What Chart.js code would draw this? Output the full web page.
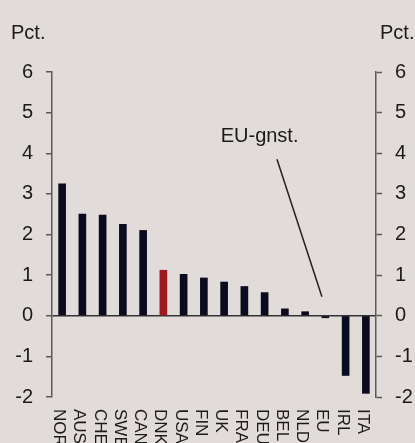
<!DOCTYPE html>
<html>
<head>
<meta charset="utf-8">
<script src="https://cdn.jsdelivr.net/npm/chart.js@4/dist/chart.umd.min.js"></script>
<style>
  html, body { margin: 0; padding: 0; background: #e1dbd9; }
  #wrap { width: 415px; height: 443px; position: relative; }
</style>
</head>
<body>
<div id="wrap"><canvas id="growth_chart" width="415" height="443"></canvas></div>
<script>
// data
const countries = ['NOR','AUS','CHE','SWE','CAN','DNK','USA','FIN','UK','FRA','DEU','BEL','NLD','EU','IRL','ITA'];
const growth = [3.25, 2.5, 2.48, 2.25, 2.1, 1.12, 1.02, 0.93, 0.83, 0.72, 0.57, 0.17, 0.1, -0.05, -1.47, -1.91];
const yMin = -2;
const yMax = 6;
const unitLabel = 'Pct.';
const noteText = 'EU-gnst.';
const notePos = [7.83, 4.28];
const noteLine = [[10.61, 3.85], [12.83, 0.47]];

const NAVY = '#0b0b20';
const RED = '#9c1a22';
const TXT = '#1a1a1a';
const AXIS = '#5a5a5a';
const FONT = '"Liberation Sans", Arial, sans-serif';

const overlay = {
  id: 'overlay',
  afterDraw(chart) {
    const ctx = chart.ctx;
    const x = chart.scales.x;
    const y = chart.scales.y;
    ctx.save();
    ctx.fillStyle = TXT;
    ctx.textAlign = 'left';
    ctx.textBaseline = 'alphabetic';
    ctx.font = '20px ' + FONT;
    ctx.fillText(unitLabel, 11, 39);
    ctx.fillText(unitLabel, 380, 39);

    // rotated category labels, read top to bottom
    ctx.font = '17px ' + FONT;
    countries.forEach((c, i) => {
      const px = x.getPixelForValue(i);
      ctx.save();
      ctx.translate(px - 8, 409);
      ctx.rotate(Math.PI / 2);
      ctx.fillText(c, 0, 0);
      ctx.restore();
    });

    // annotation
    ctx.font = '20px ' + FONT;
    ctx.fillText(noteText, x.getPixelForValue(notePos[0]), y.getPixelForValue(notePos[1]));
    ctx.strokeStyle = '#222';
    ctx.lineWidth = 1.5;
    ctx.beginPath();
    ctx.moveTo(x.getPixelForValue(noteLine[0][0]), y.getPixelForValue(noteLine[0][1]));
    ctx.lineTo(x.getPixelForValue(noteLine[1][0]), y.getPixelForValue(noteLine[1][1]));
    ctx.stroke();
    ctx.restore();
  }
};

const tickFont = { family: FONT, size: 20 };

const ctx = document.getElementById('growth_chart').getContext('2d');
const growth_chart = new Chart(ctx, {
  type: 'bar',
  data: {
    labels: countries,
    datasets: [{
      data: growth,
      backgroundColor: countries.map(c => c === 'DNK' ? RED : NAVY),
      barThickness: 7,
      yAxisID: 'y'
    }]
  },
  options: {
    responsive: false,
    animation: false,
    events: [],
    layout: { padding: { top: 72, bottom: 46, left: 0, right: 0 } },
    plugins: { legend: { display: false }, tooltip: { enabled: false } },
    scales: {
      x: { display: false, offset: true },
      y: {
        position: 'left',
        min: yMin, max: yMax,
        ticks: { stepSize: 1, padding: 13, color: TXT, font: tickFont },
        grid: {
          drawOnChartArea: true,
          color: c => (c.tick && c.tick.value === 0) ? '#333' : 'rgba(0,0,0,0)',
          lineWidth: 1.5,
          drawTicks: true, tickLength: 6, tickColor: AXIS, tickWidth: 1.5
        },
        border: { display: true, color: AXIS, width: 1.5 },
        afterFit: s => { s.width = 52; }
      },
      y2: {
        position: 'right',
        min: yMin, max: yMax,
        ticks: { stepSize: 1, padding: 13, color: TXT, font: tickFont },
        grid: { drawOnChartArea: false, drawTicks: true, tickLength: 6, tickColor: AXIS, tickWidth: 1.5 },
        border: { display: true, color: AXIS, width: 1.5 },
        afterFit: s => { s.width = 39; }
      }
    }
  },
  plugins: [overlay]
});
</script>
</body>
</html>
